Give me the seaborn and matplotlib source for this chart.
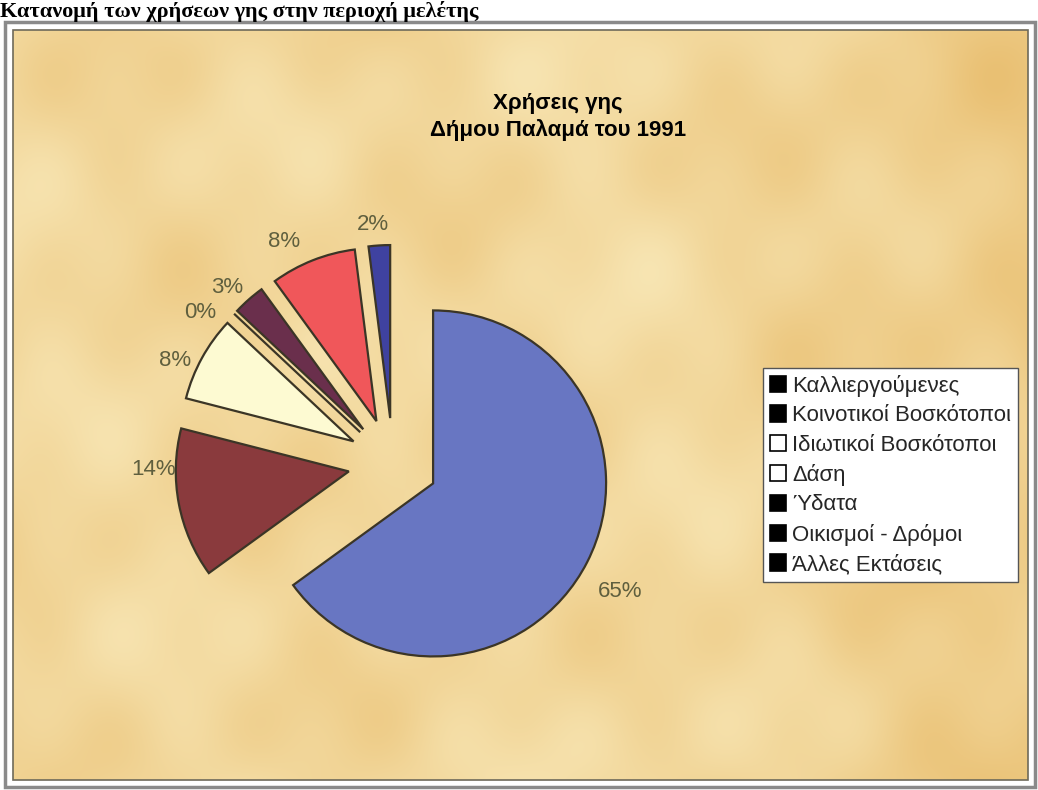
import numpy as np
import seaborn as sns
import matplotlib.pyplot as plt
from matplotlib.patches import Rectangle, Patch

# δεδομένα από το διάγραμμα
categories = ['Καλλιεργούμενες', 'Κοινοτικοί Βοσκότοποι', 'Ιδιωτικοί Βοσκότοποι',
              'Δάση', 'Ύδατα', 'Οικισμοί - Δρόμοι', 'Άλλες Εκτάσεις']
percent = [65, 14, 8, 0, 3, 8, 2]
slice_colors = ['#6876c2', '#8a3a3d', '#fdfad2', '#d8f4f2', '#6a2f4c', '#f0575a', '#3f42a0']
legend_faces = ['black', 'black', 'white', 'white', 'black', 'black', 'black']
title = 'Χρήσεις γης\nΔήμου Παλαμά του 1991'
heading = 'Κατανομή των χρήσεων γης στην περιοχή μελέτης'

# μετατόπιση ετικετών (px) ώστε να μοιάζουν με το Excel
label_nudge = [(4, -15), (7, 41), (2, -18), (-10, -21), (0, -13), (-17, -12), (-4, -12)]

sns.set_theme(style='white')
plt.rcParams['font.family'] = ['Liberation Sans', 'DejaVu Sans']

W, H = 1038, 790
fig = plt.figure(figsize=(W / 100, H / 100), dpi=100, facecolor='white')
ax = fig.add_axes([0, 0, 1, 1])

# φόντο περγαμηνής (απλή διαβάθμιση)
nx_, ny_ = 520, 380
X, Y = np.meshgrid(np.arange(nx_), np.arange(ny_))
v = (0.45 + 0.16 * np.sin(X / 37 + Y / 53) * np.cos(Y / 29 - X / 71)
     + 0.08 * np.sin(X / 11) * np.sin(Y / 15) + 0.25 * (X / nx_) ** 2
     - 0.12 * np.exp(-((X - 330) ** 2) / 9000))
v = np.clip(v, 0, 1)
light = np.array([251, 239, 196]) / 255
dark = np.array([232, 188, 108]) / 255
tex = light[None, None, :] * (1 - v[..., None]) + dark[None, None, :] * v[..., None]
ax.imshow(tex, extent=(13, 1028, H - 780, H - 30), origin='upper',
          interpolation='bilinear', zorder=0)

ax.add_patch(Rectangle((5, H - 787), 1030, 765, fill=False, edgecolor='#8a8a8a', lw=2.5, zorder=1))
ax.add_patch(Rectangle((13, H - 780), 1015, 750, fill=False, edgecolor='#6e6a5a', lw=1.2, zorder=1))

wedges, texts, autotexts = ax.pie(
    percent, colors=sns.color_palette(slice_colors), explode=[45] * len(percent),
    startangle=90, counterclock=False, radius=173, center=(393, H - 463),
    autopct=lambda p: f'{p:.0f}%', pctdistance=1.19,
    wedgeprops=dict(edgecolor='#3b3526', linewidth=1.6),
    textprops=dict(color='#5f5f3e', fontsize=16))
for w in wedges:
    w.set_zorder(3)
for t, (dx, dy) in zip(autotexts, label_nudge):
    x, y = t.get_position()
    t.set_position((x + dx, y + dy))
    t.set_zorder(4)

ax.text(558, H - 117, title, ha='center', va='center', fontsize=16,
        fontweight='bold', color='black', linespacing=1.3, zorder=4)

handles = [Patch(facecolor=f, edgecolor='black', linewidth=1.2) for f in legend_faces]
leg = ax.legend(handles, categories, loc='upper left', bbox_to_anchor=(763, H - 368),
                bbox_transform=ax.transData, frameon=True, fancybox=False,
                edgecolor='#555555', facecolor='white', framealpha=1,
                handlelength=0.75, handleheight=0.75, handletextpad=0.25,
                labelspacing=0.38, borderpad=0.3, borderaxespad=0, fontsize=16)
leg.get_frame().set_linewidth(1.0)
leg.set_zorder(5)

ax.set_xlim(0, W)
ax.set_ylim(0, H)
ax.set_aspect('equal')
ax.axis('off')

fig.text(0.0, 1 - 17 / H, heading, ha='left', va='baseline', fontsize=16,
         fontweight='bold', family=['Liberation Serif', 'DejaVu Serif'], color='black')

fig.savefig('out.png', dpi=100, facecolor='white')
